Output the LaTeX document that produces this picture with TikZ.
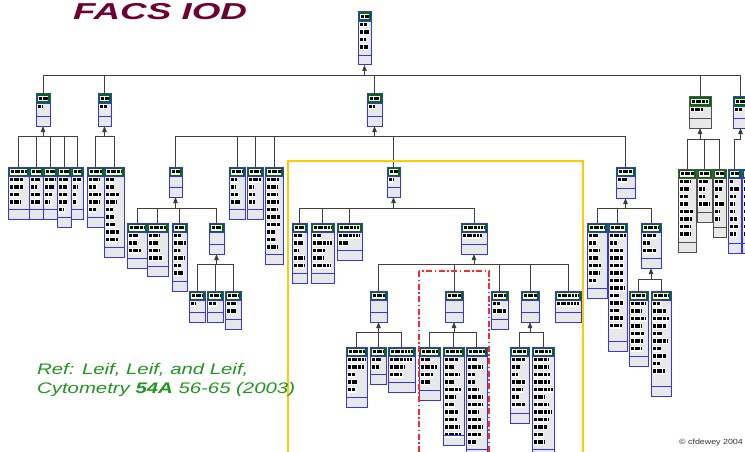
\documentclass[tikz,border=0pt]{standalone}
\usepackage{fontspec}
\setmainfont{Liberation Sans}
\usepackage{xcolor}
\usetikzlibrary{arrows.meta}

\definecolor{umlblue}{RGB}{51,51,255}
\definecolor{umlgreen}{RGB}{0,110,0}
\definecolor{umlgray}{RGB}{232,232,232}
\definecolor{umledge}{RGB}{80,80,80}
\definecolor{titlered}{RGB}{110,0,51}
\definecolor{refgreen}{RGB}{30,150,30}
\definecolor{framegold}{RGB}{255,204,0}
\definecolor{framered}{RGB}{255,40,40}

% one class: [border]{name}{x}{y}{width}{height}{attribute rows}
\newcommand{\umlclass}[7][umlblue]{%
  \node[umlbox, minimum width=#5pt, minimum height=#6pt] (#2) at (#3,#4) {};
  \fill[umlgreen] (#3,#4) rectangle ++(#5,9);
  \fill[white] (#3+2,#4+2) rectangle ++(#5-4,5.5);
  \draw[glyphs] (#3+2.5,#4+4.75) -- ++(#5-5,0);
  \ifnum#7>0
    \foreach \k in {1,...,#7}{%
      \pgfmathsetmacro\len{(#5-3)*(0.4+0.6*rnd)}
      \fill[white] (#3+1,#4+2+\k*7.5) rectangle ++(\len+1,6);
      \draw[glyphs] (#3+1.5,#4+5+\k*7.5) -- ++(\len,0);
    }
  \fi
  \draw[#1] (#3,#4+9) -- ++(#5,0) (#3,#4+#6-10) -- ++(#5,0);
  \draw[#1, line width=1pt] (#2.north west) rectangle (#2.south east);
}
% parent, bus drop, children
\newcommand{\subtree}[3]{%
  \coordinate (#1bus) at ([yshift=-#2pt]#1.south);
  \foreach \c in {#3} \draw[tree] (\c.north) |- (#1bus);
  \draw[inh] (#1bus) -- (#1.south);
}

\begin{document}
\begin{tikzpicture}[x=1pt, y=-1pt,
    umlbox/.style={fill=umlgray, anchor=north west, inner sep=0pt, outer sep=0pt},
    glyphs/.style={black, line width=3.2pt,
      dash pattern=on 0.7pt off 0.35pt on 1.4pt off 0.5pt on 0.5pt off 0.9pt on 1pt off 0.4pt},
    tree/.style={draw=black!75, line width=0.9pt},
    inh/.style={tree, -{Triangle[width=4.5pt,length=6pt,fill=umlgreen!80!black]}}]
  \pgfmathsetseed{11}
  \useasboundingbox (0,0) rectangle (745,452);
  \clip (0,0) rectangle (745,452);

  \node[anchor=base west, inner sep=0pt, text=titlered,
        font=\bfseries\itshape\fontsize{23}{25}\selectfont] (title) at (73,19.5)
        {\scalebox{1.6}[1]{FACS IOD}};

  \umlclass{R}{358}{12}{13}{53}{4}

  \umlclass{A}{36}{94}{14}{32}{1}
  \umlclass{B}{98}{94}{13}{32}{1}
  \umlclass{C}{367}{94}{15}{32}{1}
  \umlclass[umledge]{D}{689}{97}{22}{31}{1}
  \umlclass{E}{733}{97}{15}{31}{1}

  \umlclass{a1}{8}{167}{21}{52}{4}
  \umlclass{a2}{29}{167}{14}{52}{4}
  \umlclass{a3}{43}{167}{14}{52}{4}
  \umlclass{a4}{57}{167}{14}{60}{5}
  \umlclass{a5}{71}{167}{12}{52}{4}
  \umlclass{b1}{87}{167}{17}{60}{5}
  \umlclass{b2}{104}{167}{20}{90}{9}

  \umlclass{c1}{169}{167}{13}{30}{0}
  \umlclass{c2}{229}{167}{16}{52}{4}
  \umlclass{c3}{247}{167}{16}{52}{4}
  \umlclass{c4}{265}{167}{18}{97}{10}
  \umlclass{c5}{387}{167}{13}{30}{1}
  \umlclass{c6}{616}{167}{19}{31}{1}

  \umlclass[umledge]{d1}{678}{169}{18}{83}{8}
  \umlclass[umledge]{d2}{697}{169}{15}{53}{4}
  \umlclass[umledge]{d3}{713}{169}{13}{68}{6}
  \umlclass{e1}{728}{169}{13}{84}{8}
  \umlclass{e2}{742}{169}{12}{84}{8}

  \umlclass{c1a}{127}{223}{20}{45}{3}
  \umlclass{c1b}{147}{223}{21}{53}{4}
  \umlclass{c1c}{172}{223}{15}{68}{6}
  \umlclass{c1d}{209}{223}{15}{31}{0}
  \umlclass{k1}{189}{291}{16}{31}{1}
  \umlclass{k2}{207}{291}{16}{31}{1}
  \umlclass{k3}{225}{291}{16}{38}{2}

  \umlclass{f1}{292}{223}{15}{60}{5}
  \umlclass{f2}{311}{223}{23}{60}{5}
  \umlclass{f3}{337}{223}{25}{37}{2}
  \umlclass{f4}{461}{223}{26}{31}{1}

  \umlclass{g1}{370}{291}{17}{31}{0}
  \umlclass{g2}{445}{291}{18}{31}{0}
  \umlclass{g3}{491}{291}{17}{38}{2}
  \umlclass{g4}{521}{291}{18}{31}{0}
  \umlclass{g5}{555}{291}{26}{31}{1}

  \umlclass{g1a}{346}{347}{21}{60}{5}
  \umlclass{g1b}{370}{347}{16}{37}{2}
  \umlclass{g1c}{388}{347}{27}{45}{3}
  \umlclass{g2a}{419}{347}{21}{53}{4}
  \umlclass{g2b}{443}{347}{21}{98}{11}
  \umlclass{g2c}{466}{347}{21}{112}{12}
  \umlclass{g4a}{510}{347}{19}{76}{7}
  \umlclass{g4b}{532}{347}{22}{112}{12}

  \umlclass{h1}{587}{223}{20}{75}{7}
  \umlclass{h2}{608}{223}{19}{128}{13}
  \umlclass{h3}{641}{223}{20}{45}{3}
  \umlclass{h3a}{629}{291}{19}{75}{7}
  \umlclass{h3b}{651}{291}{20}{105}{10}

  \subtree{R}{10}{A,B,C,D,E}
  \subtree{A}{10}{a1,a2,a3,a4,a5}
  \subtree{B}{10}{b1,b2}
  \subtree{C}{10}{c1,c2,c3,c4,c5,c6}
  \subtree{D}{11}{d1,d2,d3}
  \subtree{E}{11}{e1}
  \subtree{c1}{11}{c1a,c1b,c1c,c1d}
  \subtree{c1d}{10}{k1,k2,k3}
  \subtree{c5}{11}{f1,f2,f3,f4}
  \subtree{f4}{10}{g1,g2,g3,g4,g5}
  \subtree{g1}{10}{g1a,g1b,g1c}
  \subtree{g2}{10}{g2a,g2b,g2c}
  \subtree{g4}{10}{g4a,g4b}
  \subtree{c6}{10}{h1,h2,h3}
  \subtree{h3}{11}{h3a,h3b}

  \draw[framegold, line width=1.2pt] (288,161) rectangle (583,470);
  \draw[framered, line width=1.2pt, dash pattern=on 6pt off 2.5pt on 1.5pt off 2.5pt]
    (419,271) rectangle (489,470);

  \node[anchor=base west, inner sep=0pt, text=refgreen,
        font=\itshape\fontsize{15.3}{18}\selectfont] (ref1) at (37,374)
        {\scalebox{1.33}[1]{Ref: Leif, Leif, and Leif,}};
  \node[anchor=base west, inner sep=0pt, text=refgreen,
        font=\itshape\fontsize{15.3}{18}\selectfont] (ref2) at (37,393)
        {\scalebox{1.33}[1]{Cytometry \textbf{54A} 56-65 (2003)}};
  \node[anchor=base west, inner sep=0pt, text=black!80,
        font=\fontsize{7.5}{9}\selectfont] (copy) at (679,444)
        {\scalebox{1.18}[1]{\textcopyright\ cfdewey 2004}};
\end{tikzpicture}
\end{document}
